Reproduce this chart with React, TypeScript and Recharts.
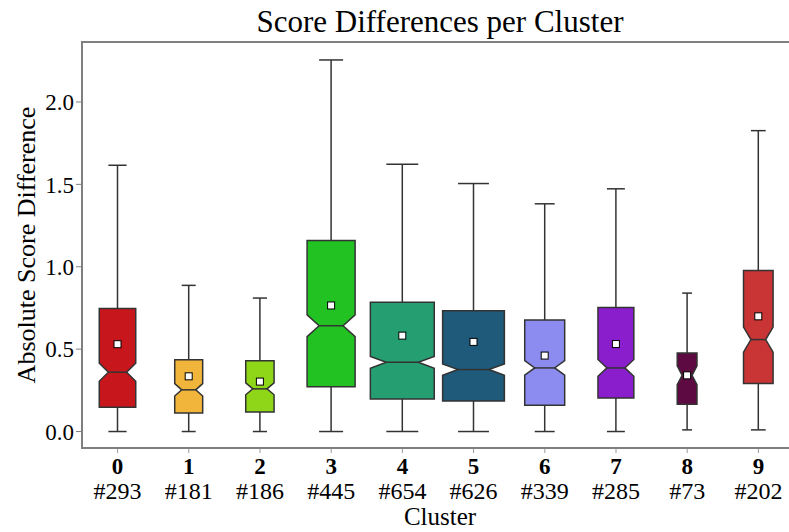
import React from 'react';
import { BarChart, Bar, XAxis, YAxis } from 'recharts';

const clusters = ['0', '1', '2', '3', '4', '5', '6', '7', '8', '9'];
const counts = [293, 181, 186, 445, 654, 626, 339, 285, 73, 202];
const whiskerLow = [0, 0, 0, 0, 0, 0, 0, 0, 0.01, 0.01];
const q1 = [0.147, 0.113, 0.119, 0.271, 0.198, 0.186, 0.159, 0.204, 0.165, 0.291];
const medians = [0.36, 0.253, 0.259, 0.642, 0.42, 0.376, 0.386, 0.386, 0.341, 0.558];
const q3 = [0.747, 0.436, 0.43, 1.159, 0.784, 0.733, 0.677, 0.752, 0.477, 0.978];
const whiskerHigh = [1.616, 0.887, 0.81, 2.255, 1.622, 1.505, 1.382, 1.473, 0.84, 1.826];
const means = [0.53, 0.335, 0.303, 0.765, 0.582, 0.544, 0.461, 0.531, 0.341, 0.699];
const colors = ['#c8171c', '#f2b53c', '#8fd618', '#22c222', '#259e72', '#1f5a7a', '#8c8cf0', '#8a1ecc', '#5e0a42', '#c93434'];
const yTicks = [0, 0.5, 1.0, 1.5, 2.0];

const maxCount = Math.max(...counts);

const data = clusters.map((c, i) => ({
  cluster: c,
  count: counts[i],
  range: [whiskerLow[i], whiskerHigh[i]],
  q1: q1[i],
  median: medians[i],
  q3: q3[i],
  mean: means[i],
  color: colors[i],
}));

const FONT = '"Liberation Serif", "Times New Roman", serif';
const EDGE = '#333333';

const BoxShape = (props: any) => {
  const { x, y, width, height, payload } = props;
  const lo = payload.range[0];
  const hi = payload.range[1];
  const k = height / (hi - lo);
  const py = (v: number) => y + (hi - v) * k;
  const cx = x + width / 2;
  const bw = width * (0.2 + 0.7 * (payload.count / maxCount));
  const left = cx - bw / 2;
  const right = cx + bw / 2;
  const nl = cx - bw / 4;
  const nr = cx + bw / 4;
  const notch = (1.57 * (payload.q3 - payload.q1)) / Math.sqrt(payload.count);
  const m = payload.median;
  const d = [
    `M${left},${py(payload.q1)}`,
    `L${right},${py(payload.q1)}`,
    `L${right},${py(m - notch)}`,
    `L${nr},${py(m)}`,
    `L${right},${py(m + notch)}`,
    `L${right},${py(payload.q3)}`,
    `L${left},${py(payload.q3)}`,
    `L${left},${py(m + notch)}`,
    `L${nl},${py(m)}`,
    `L${left},${py(m - notch)}`,
    'Z',
  ].join(' ');
  const capHalf = bw / 4;
  const ms = 3.5;
  return (
    <g>
      <line x1={cx} x2={cx} y1={py(hi)} y2={py(payload.q3)} stroke={EDGE} strokeWidth={1.5} />
      <line x1={cx} x2={cx} y1={py(payload.q1)} y2={py(lo)} stroke={EDGE} strokeWidth={1.5} />
      <line x1={cx - capHalf} x2={cx + capHalf} y1={py(hi)} y2={py(hi)} stroke={EDGE} strokeWidth={1.5} />
      <line x1={cx - capHalf} x2={cx + capHalf} y1={py(lo)} y2={py(lo)} stroke={EDGE} strokeWidth={1.5} />
      <path d={d} fill={payload.color} stroke={EDGE} strokeWidth={1.5} strokeLinejoin="miter" />
      <line x1={nl} x2={nr} y1={py(m)} y2={py(m)} stroke={EDGE} strokeWidth={1.5} />
      <rect x={cx - ms} y={py(payload.mean) - ms} width={ms * 2} height={ms * 2} fill="#ffffff" stroke="#000000" strokeWidth={1} />
    </g>
  );
};

const ClusterTick = (props: any) => {
  const { x, y, payload, index } = props;
  return (
    <g>
      <text x={x} y={y + 19} textAnchor="middle" fontFamily={FONT} fontWeight="bold" fontSize={23} fill="#000">
        {payload.value}
      </text>
      <text x={x} y={y + 44} textAnchor="middle" fontFamily={FONT} fontSize={24} fill="#000">
        {'#' + counts[index]}
      </text>
    </g>
  );
};

const YLabel = (props: any) => {
  const vb = props.viewBox || { x: 0, y: 42, width: 82, height: 406 };
  const cx = vb.x + 26;
  const cy = vb.y + vb.height / 2;
  return (
    <text x={cx} y={cy} transform={`rotate(-90, ${cx}, ${cy})`} textAnchor="middle" dominantBaseline="central" fontFamily={FONT} fontSize={26} fill="#000">
      Absolute Score Difference
    </text>
  );
};

const XLabel = (props: any) => {
  const vb = props.viewBox || { x: 82, y: 448, width: 712, height: 84 };
  return (
    <text x={vb.x + vb.width / 2 + 2} y={vb.y + 77} textAnchor="middle" fontFamily={FONT} fontSize={25} fill="#000">
      Cluster
    </text>
  );
};

export default function App() {
  return (
    <div style={{ position: 'absolute', left: 0, top: 0, width: 789, height: 532, overflow: 'hidden', background: '#fff' }}>
      <BarChart
        width={800}
        height={532}
        data={data}
        margin={{ top: 42, right: 6, bottom: 0, left: 0 }}
        barCategoryGap={0}
        style={{ fontFamily: FONT }}
      >
        <XAxis
          dataKey="cluster"
          type="category"
          height={84}
          axisLine={false}
          tickLine={{ stroke: '#9a9a9a' }}
          tickSize={5}
          tick={<ClusterTick />}
          interval={0}
          label={<XLabel />}
        />
        <YAxis
          type="number"
          domain={[-0.1, 2.364]}
          ticks={yTicks}
          allowDataOverflow
          width={82}
          axisLine={false}
          tickLine={{ stroke: '#7f7f7f' }}
          tickSize={6}
          tickFormatter={(v: number) => v.toFixed(1)}
          tick={{ fill: '#000', fontSize: 23, fontFamily: FONT }}
          label={<YLabel />}
        />
        <Bar dataKey="range" shape={<BoxShape />} isAnimationActive={false} />
      </BarChart>
      <svg width={789} height={532} style={{ position: 'absolute', left: 0, top: 0, pointerEvents: 'none' }}>
        <rect x={82} y={42} width={712} height={406} fill="none" stroke="#7f7f7f" strokeWidth={2} />
        <text x={440} y={32} textAnchor="middle" fontFamily={FONT} fontSize={31} fill="#000">
          Score Differences per Cluster
        </text>
      </svg>
    </div>
  );
}
